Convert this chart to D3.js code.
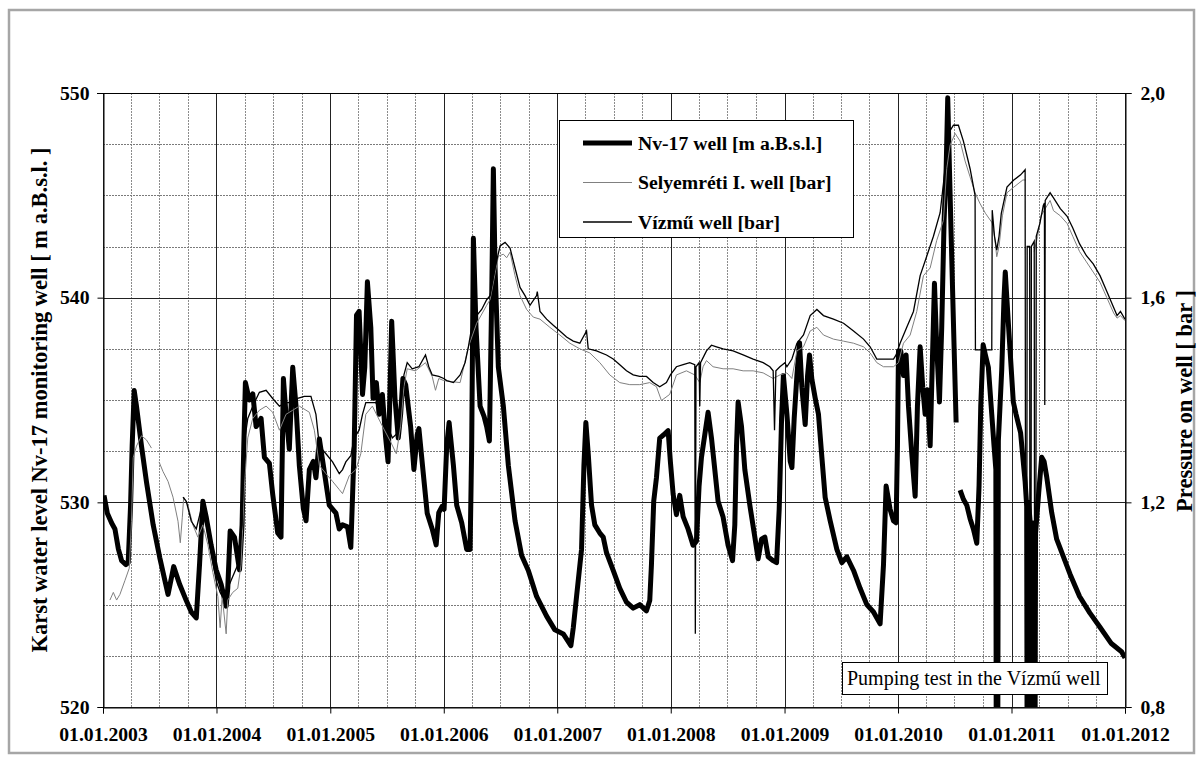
<!DOCTYPE html>
<html>
<head>
<meta charset="utf-8">
<script src="https://cdn.jsdelivr.net/npm/d3@7"></script>
<style>
  body { margin: 0; background: #fff; }
  text { font-family: "Liberation Serif", "Times New Roman", serif; }
</style>
</head>
<body>
<div id="chart"></div>
<script>
// time is in decimal years, Nv-17 in m a.B.s.l., the wells in bar
// null = no record
const nv17 = [
  [2003.009,530.34],[2003.038,529.47],[2003.076,528.99],[2003.105,528.7],[2003.135,527.73],
  [2003.164,527.15],[2003.202,526.96],[2003.222,527.05],[2003.243,529.86],[2003.257,532.76],
  [2003.275,535.46],[2003.295,534.7],[2003.339,532.76],[2003.383,531.0],[2003.442,528.9],
  [2003.5,527.3],[2003.573,525.5],[2003.623,526.86],[2003.675,526.0],[2003.734,525.2],
  [2003.778,524.64],[2003.822,524.35],[2003.851,527.0],[2003.88,530.05],[2003.909,529.3],
  [2003.953,527.9],[2003.997,526.7],[2004.041,526.0],[2004.085,524.93],[2004.099,525.8],
  [2004.12,528.6],[2004.158,528.3],[2004.202,526.7],[2004.225,528.9],[2004.24,532.76],
  [2004.254,535.85],[2004.289,535.0],[2004.319,535.3],[2004.348,533.7],[2004.392,534.1],
  [2004.421,532.2],[2004.465,531.9],[2004.494,530.4],[2004.538,528.5],[2004.567,528.3],
  [2004.588,536.05],[2004.611,534.3],[2004.64,532.6],[2004.67,536.6],[2004.699,534.7],
  [2004.728,531.8],[2004.763,529.7],[2004.787,529.1],[2004.816,531.6],[2004.851,532.0],
  [2004.874,531.2],[2004.904,533.1],[2004.939,531.8],[2004.991,529.86],[2005.05,529.47],
  [2005.079,528.7],[2005.108,528.9],[2005.152,528.8],[2005.181,527.8],[2005.211,532.76],
  [2005.231,539.14],[2005.254,539.33],[2005.284,535.27],[2005.304,536.6],[2005.327,540.78],
  [2005.357,538.55],[2005.377,535.08],[2005.406,535.85],[2005.43,534.3],[2005.459,535.27],
  [2005.488,533.14],[2005.509,531.98],[2005.523,534.69],[2005.541,538.85],[2005.57,535.08],
  [2005.599,533.14],[2005.62,534.3],[2005.64,536.05],[2005.664,535.75],[2005.708,533.7],
  [2005.737,531.6],[2005.766,533.3],[2005.781,533.6],[2005.816,531.6],[2005.854,529.47],
  [2005.898,528.7],[2005.933,527.92],[2005.956,529.5],[2005.985,529.8],[2006.003,529.66],
  [2006.026,532.76],[2006.047,533.9],[2006.085,531.8],[2006.114,529.86],[2006.158,529.0],
  [2006.202,527.7],[2006.232,527.7],[2006.246,532.76],[2006.261,542.9],[2006.284,538.55],
  [2006.32,534.7],[2006.355,534.2],[2006.378,533.7],[2006.402,533.0],[2006.422,539.9],
  [2006.437,546.3],[2006.452,541.45],[2006.481,536.6],[2006.525,534.7],[2006.569,531.8],
  [2006.628,529.1],[2006.686,527.4],[2006.745,526.67],[2006.818,525.4],[2006.906,524.44],
  [2006.979,523.77],[2007.053,523.57],[2007.12,523.0],[2007.141,523.86],[2007.17,525.4],
  [2007.214,527.7],[2007.235,531.8],[2007.252,533.9],[2007.273,532.37],[2007.302,529.86],
  [2007.331,528.9],[2007.375,528.5],[2007.405,528.3],[2007.434,527.54],[2007.493,526.67],
  [2007.551,525.8],[2007.61,525.12],[2007.669,524.83],[2007.727,525.0],[2007.786,524.7],
  [2007.815,525.2],[2007.83,526.96],[2007.85,530.05],[2007.874,531.2],[2007.903,533.14],
  [2007.938,533.3],[2007.977,533.5],[2007.997,531.98],[2008.021,530.4],[2008.05,529.4],
  [2008.079,530.34],[2008.109,529.3],[2008.152,528.7],[2008.196,527.9],[2008.226,528.1],
  [2008.249,530.8],[2008.27,532.2],[2008.299,533.3],[2008.328,534.4],[2008.358,533.14],
  [2008.387,531.6],[2008.416,530.05],[2008.46,529.28],[2008.504,527.9],[2008.543,527.15],
  [2008.563,528.9],[2008.578,532.76],[2008.592,534.9],[2008.622,533.7],[2008.651,531.6],
  [2008.695,529.86],[2008.739,528.3],[2008.768,527.24],[2008.798,528.2],[2008.827,528.3],
  [2008.856,527.34],[2008.9,527.15],[2008.93,527.05],[2008.953,529.66],[2008.974,534.1],
  [2008.99,536.2],[2009.021,534.3],[2009.05,532.0],[2009.065,531.7],[2009.085,534.1],
  [2009.109,536.2],[2009.132,537.8],[2009.153,535.6],[2009.182,533.8],[2009.203,536.2],
  [2009.22,537.2],[2009.241,536.0],[2009.27,535.1],[2009.299,534.3],[2009.329,532.2],
  [2009.358,530.24],[2009.402,529.1],[2009.461,527.7],[2009.505,527.05],[2009.549,527.34],
  [2009.608,526.67],[2009.666,525.8],[2009.725,525.0],[2009.784,524.64],[2009.842,524.06],
  [2009.872,526.96],[2009.895,530.8],[2009.93,529.66],[2009.96,529.1],[2009.983,529.0],
  [2009.995,532.76],[2010.004,537.4],[2010.024,537.4],[2010.048,536.2],[2010.071,537.2],
  [2010.092,534.7],[2010.121,532.4],[2010.151,530.3],[2010.171,534.7],[2010.195,537.6],
  [2010.218,535.6],[2010.239,534.3],[2010.259,535.5],[2010.283,532.76],[2010.306,537.6],
  [2010.321,540.7],[2010.341,537.6],[2010.365,534.9],[2010.385,538.55],[2010.406,543.78],
  [2010.424,546.3],[2010.438,549.77],[2010.453,546.3],[2010.473,542.0],[2010.494,537.6],
  [2010.512,533.9],[2010.53,null],
  [2010.547,530.6],[2010.576,530.15],[2010.606,529.86],[2010.635,529.2],[2010.664,528.7],
  [2010.694,528.0],[2010.714,530.8],[2010.729,534.7],[2010.75,537.7],[2010.77,537.2],
  [2010.796,536.6],[2010.826,534.3],[2010.846,532.76],[2010.862,531.6],[2010.866,515],
  [2010.878,515],[2010.884,533.0],[2010.914,536.5],[2010.934,540.0],[2010.945,541.25],
  [2010.975,538.5],[2011.016,534.9],[2011.04,534.3],[2011.08,533.4],[2011.12,531.0],
  [2011.134,529.8],[2011.138,515],[2011.145,515],[2011.15,530.0],[2011.165,529.0],
  [2011.17,515],[2011.178,515],[2011.185,529.0],[2011.195,528.6],[2011.2,515],
  [2011.206,515],[2011.212,528.5],[2011.24,530.5],[2011.266,532.2],[2011.287,532.0],
  [2011.31,531.25],[2011.354,529.5],[2011.398,528.2],[2011.457,527.35],[2011.515,526.5],
  [2011.6,525.4],[2011.69,524.6],[2011.78,523.9],[2011.88,523.1],[2011.97,522.7],
  [2012.0,522.4]
];

const selyemreti = [
  [2003.061,1.009],[2003.091,1.024],[2003.12,1.009],[2003.149,1.02],[2003.193,1.047],
  [2003.231,1.071],[2003.251,1.163],[2003.266,1.287],[2003.295,1.31],[2003.339,1.33],
  [2003.383,1.322],[2003.427,1.306],[2003.46,null],
  [2003.494,1.279],[2003.529,1.26],[2003.573,1.241],[2003.617,1.21],[2003.661,1.163],
  [2003.681,1.121],[2003.699,1.171],[2003.711,1.21],[2003.749,1.194],[2003.792,1.156],
  [2003.836,1.132],[2003.88,1.156],[2003.924,1.117],[2003.968,1.063],[2004.012,1.016],
  [2004.032,0.955],[2004.05,1.016],[2004.085,0.943],[2004.099,1.009],[2004.143,1.024],
  [2004.187,1.032],[2004.216,1.078],[2004.246,1.233],[2004.275,1.326],[2004.319,1.364],
  [2004.377,1.38],[2004.436,1.388],[2004.494,1.376],[2004.553,1.341],[2004.611,1.372],
  [2004.67,1.38],[2004.728,1.388],[2004.816,1.376],[2004.86,1.341],[2004.904,1.272],
  [2004.962,1.256],[2005.02,1.241],[2005.079,1.225],[2005.108,1.217],[2005.167,1.252],
  [2005.225,1.264],[2005.269,1.295],[2005.313,1.372],[2005.371,1.388],[2005.459,1.349],
  [2005.532,1.318],[2005.582,1.295],[2005.62,1.349],[2005.649,1.426],[2005.678,1.461],
  [2005.751,1.457],[2005.839,1.473],[2005.898,1.446],[2005.927,1.419],[2005.956,1.442],
  [2006.0,1.438],[2006.07,1.436],[2006.144,1.434],[2006.217,1.504],[2006.29,1.55],
  [2006.378,1.585],[2006.408,1.596],[2006.481,1.681],[2006.525,1.685],[2006.554,1.678],
  [2006.584,1.689],[2006.628,1.643],[2006.672,1.604],[2006.73,1.577],[2006.789,1.562],
  [2006.848,1.558],[2006.935,1.542],[2007.023,1.527],[2007.111,1.511],[2007.199,1.5],
  [2007.287,1.492],[2007.375,1.473],[2007.463,1.449],[2007.551,1.434],[2007.639,1.43],
  [2007.727,1.43],[2007.815,1.434],[2007.874,1.426],[2007.918,1.399],[2007.991,1.411],
  [2008.05,1.449],[2008.138,1.457],[2008.211,1.449],[2008.255,1.434],[2008.284,1.465],
  [2008.314,1.477],[2008.372,1.465],[2008.46,1.461],[2008.548,1.461],[2008.636,1.457],
  [2008.724,1.457],[2008.812,1.453],[2008.9,1.442],[2008.959,1.449],[2009.021,1.453],
  [2009.065,1.442],[2009.109,1.496],[2009.167,1.504],[2009.226,1.535],[2009.285,1.542],
  [2009.343,1.527],[2009.431,1.519],[2009.52,1.515],[2009.608,1.511],[2009.696,1.504],
  [2009.754,1.492],[2009.813,1.473],[2009.872,1.465],[2009.96,1.465],[2010.004,1.473],
  [2010.048,1.511],[2010.107,1.527],[2010.165,1.573],[2010.224,1.643],[2010.283,1.658],
  [2010.341,1.712],[2010.4,1.751],[2010.429,1.852],[2010.459,1.898],[2010.503,1.921],
  [2010.547,1.906],[2010.591,1.867],[2010.635,1.836],[2010.679,1.805],[2010.72,1.785],
  [2010.77,1.765],[2010.83,1.746],[2010.85,1.72],[2010.87,1.68],[2010.89,1.7],
  [2010.92,1.76],[2010.96,1.805],[2011.02,1.816],[2011.1,1.83],[2011.126,1.83],
  [2011.13,null],
  [2011.2,1.69],[2011.23,1.72],[2011.26,1.76],[2011.3,1.775],[2011.34,1.79],
  [2011.37,1.77],[2011.43,1.76],[2011.49,1.745],[2011.54,1.72],[2011.6,1.69],
  [2011.66,1.67],[2011.72,1.65],[2011.78,1.63],[2011.84,1.6],[2011.9,1.57],
  [2011.93,1.56],[2011.96,1.565],[2012.0,1.555]
];

const vizmu = [
  [2003.705,1.21],[2003.734,1.202],[2003.778,1.163],[2003.822,1.148],[2003.865,1.187],
  [2003.909,1.156],[2003.953,1.101],[2003.997,1.047],[2004.032,1.024],[2004.07,1.009],
  [2004.099,1.032],[2004.143,1.055],[2004.187,1.078],[2004.225,1.156],[2004.24,1.31],
  [2004.275,1.364],[2004.319,1.388],[2004.377,1.415],[2004.436,1.419],[2004.494,1.403],
  [2004.553,1.388],[2004.611,1.395],[2004.655,1.395],[2004.713,1.403],[2004.772,1.407],
  [2004.83,1.407],[2004.874,1.372],[2004.904,1.31],[2004.962,1.295],[2005.02,1.279],
  [2005.079,1.256],[2005.108,1.264],[2005.137,1.279],[2005.181,1.291],[2005.211,1.326],
  [2005.254,1.341],[2005.284,1.372],[2005.313,1.395],[2005.342,1.395],[2005.401,1.395],
  [2005.459,1.372],[2005.518,1.341],[2005.547,1.326],[2005.582,1.333],[2005.62,1.388],
  [2005.649,1.449],[2005.678,1.473],[2005.722,1.461],[2005.781,1.465],[2005.839,1.488],
  [2005.868,1.465],[2005.898,1.449],[2005.956,1.446],[2006.0,1.442],[2006.026,1.438],
  [2006.085,1.434],[2006.144,1.449],[2006.188,1.473],[2006.217,1.504],[2006.246,1.542],
  [2006.29,1.565],[2006.334,1.577],[2006.378,1.596],[2006.408,1.604],[2006.452,1.658],
  [2006.496,1.701],[2006.54,1.708],[2006.584,1.697],[2006.628,1.658],[2006.672,1.62],
  [2006.716,1.604],[2006.76,1.585],[2006.818,1.604],[2006.824,1.612],[2006.848,1.573],
  [2006.906,1.558],[2006.965,1.546],[2007.023,1.535],[2007.082,1.523],[2007.141,1.515],
  [2007.199,1.511],[2007.258,1.535],[2007.273,1.5],[2007.346,1.496],[2007.434,1.488],
  [2007.493,1.48],[2007.551,1.469],[2007.61,1.457],[2007.669,1.449],[2007.727,1.446],
  [2007.786,1.446],[2007.845,1.434],[2007.903,1.426],[2007.962,1.434],[2007.997,1.449],
  [2008.05,1.465],[2008.109,1.469],[2008.167,1.473],[2008.211,1.469],[2008.216,0.943],
  [2008.222,1.465],[2008.249,1.473],[2008.255,1.388],[2008.262,1.473],[2008.314,1.496],
  [2008.358,1.507],[2008.402,1.504],[2008.46,1.5],[2008.548,1.496],[2008.636,1.488],
  [2008.724,1.48],[2008.812,1.473],[2008.871,1.465],[2008.9,1.457],[2008.912,1.341],
  [2008.924,1.457],[2008.959,1.465],[2009.003,1.473],[2009.021,1.465],[2009.065,1.48],
  [2009.109,1.511],[2009.167,1.527],[2009.226,1.565],[2009.285,1.577],[2009.343,1.565],
  [2009.431,1.558],[2009.52,1.55],[2009.608,1.535],[2009.696,1.519],[2009.754,1.504],
  [2009.813,1.48],[2009.872,1.48],[2009.96,1.48],[2009.983,1.488],[2010.018,1.511],
  [2010.077,1.542],[2010.136,1.573],[2010.195,1.643],[2010.253,1.681],[2010.312,1.72],
  [2010.371,1.766],[2010.415,1.852],[2010.444,1.921],[2010.488,1.937],[2010.532,1.937],
  [2010.576,1.906],[2010.635,1.852],[2010.679,1.8],[2010.682,1.498],[2010.826,1.498],
  [2010.83,1.771],[2010.85,1.72],[2010.87,1.693],[2010.89,1.72],[2010.91,1.765],
  [2010.96,1.816],[2011.02,1.83],[2011.08,1.84],[2011.12,1.85],[2011.126,0.6],
  [2011.132,0.6],[2011.138,1.7],[2011.16,1.7],[2011.163,0.6],[2011.17,0.6],
  [2011.175,1.7],[2011.2,1.71],[2011.205,0.6],[2011.212,0.6],[2011.218,1.72],
  [2011.25,1.745],[2011.28,1.78],[2011.29,1.785],[2011.293,1.39],[2011.297,1.79],
  [2011.34,1.805],[2011.37,1.795],[2011.43,1.774],[2011.49,1.759],[2011.54,1.736],
  [2011.6,1.705],[2011.66,1.682],[2011.72,1.666],[2011.78,1.643],[2011.84,1.612],
  [2011.9,1.581],[2011.93,1.565],[2011.96,1.573],[2012.0,1.558]
];

const levelTicks = [520, 530, 540, 550];
const pressureTicks = [0.8, 1.2, 1.6, 2.0];
const legendLabels = ["Nv-17 well [m a.B.s.l.]", "Selyemréti I. well [bar]", "Vízmű well [bar]"];
const leftTitle = "Karst water level Nv-17 monitoring well [ m a.B.s.l. ]";
const rightTitle = "Pressure on well [ bar ]";
const noteText = "Pumping test in the Vízmű well";

// decimal year -> Date
function toDate(t) {
  const y = Math.floor(t);
  const a = Date.UTC(y, 0, 1), b = Date.UTC(y + 1, 0, 1);
  return new Date(a + (t - y) * (b - a));
}

const W = 1203, H = 760;
const pL = 103, pT = 93, pR = 1125, pB = 707;

const svg = d3.select("#chart").append("svg")
  .attr("width", W).attr("height", H);

// outer frame
svg.append("rect")
  .attr("x", 9).attr("y", 10).attr("width", 1185).attr("height", 743)
  .attr("fill", "#fff").attr("stroke", "#a6a6a6").attr("stroke-width", 2.5);

const x = d3.scaleUtc()
  .domain([toDate(2003), toDate(2012)])
  .range([pL, pR]);
const yL = d3.scaleLinear().domain([520, 550]).range([pB, pT]);
const yR = d3.scaleLinear().domain([0.8, 2.0]).range([pB, pT]);

// grid
const grid = svg.append("g");
const quarters = d3.utcMonth.every(3).range(toDate(2003), toDate(2012));
grid.selectAll("line.vq")
  .data(quarters.filter(d => d.getUTCMonth() !== 0))
  .join("line")
  .attr("x1", d => Math.round(x(d)) + 0.5).attr("x2", d => Math.round(x(d)) + 0.5)
  .attr("y1", pT).attr("y2", pB)
  .attr("stroke", "#8c8c8c").attr("stroke-dasharray", "2,1");
grid.selectAll("line.hq")
  .data(d3.range(522.5, 550, 2.5).filter(v => v % 10 !== 0))
  .join("line")
  .attr("x1", pL).attr("x2", pR)
  .attr("y1", d => Math.round(yL(d)) + 0.5).attr("y2", d => Math.round(yL(d)) + 0.5)
  .attr("stroke", "#7a7a7a").attr("stroke-dasharray", "2,1");
grid.selectAll("line.vy")
  .data(x.ticks(d3.utcYear.every(1)))
  .join("line")
  .attr("x1", d => Math.round(x(d)) + 0.5).attr("x2", d => Math.round(x(d)) + 0.5)
  .attr("y1", pT).attr("y2", pB)
  .attr("stroke", "#222");
grid.selectAll("line.hy")
  .data(levelTicks)
  .join("line")
  .attr("x1", pL).attr("x2", pR)
  .attr("y1", d => Math.round(yL(d)) + 0.5).attr("y2", d => Math.round(yL(d)) + 0.5)
  .attr("stroke", "#222");

// series
svg.append("clipPath").attr("id", "clip")
  .append("rect").attr("x", pL).attr("y", pT).attr("width", pR - pL).attr("height", pB - pT);
const plot = svg.append("g").attr("clip-path", "url(#clip)");

const lineL = d3.line()
  .defined(d => d[1] != null)
  .x(d => x(toDate(d[0]))).y(d => yL(d[1]));
const lineR = d3.line()
  .defined(d => d[1] != null)
  .x(d => x(toDate(d[0]))).y(d => yR(d[1]));

plot.append("path").datum(nv17).attr("d", lineL)
  .attr("fill", "none").attr("stroke", "#000").attr("stroke-width", 5)
  .attr("stroke-linejoin", "round");
plot.append("path").datum(selyemreti).attr("d", lineR)
  .attr("fill", "none").attr("stroke", "#808080").attr("stroke-width", 1);
plot.append("path").datum(vizmu).attr("d", lineR)
  .attr("fill", "none").attr("stroke", "#000").attr("stroke-width", 1.3);

// axes
const fmtDate = d3.utcFormat("%d.%m.%Y");
const axL = svg.append("g").attr("transform", `translate(${pL + 0.5},0)`)
  .call(d3.axisLeft(yL).tickValues(levelTicks).tickSize(6).tickPadding(8));
const axR = svg.append("g").attr("transform", `translate(${pR + 0.5},0)`)
  .call(d3.axisRight(yR).tickValues(pressureTicks).tickSize(6).tickPadding(9)
    .tickFormat(d => d3.format(".1f")(d).replace(".", ",")));
const axB = svg.append("g").attr("transform", `translate(0,${pB + 0.5})`)
  .call(d3.axisBottom(x).ticks(d3.utcYear.every(1)).tickFormat(fmtDate).tickSize(6).tickPadding(14));
svg.append("line").attr("x1", pL - 6).attr("x2", pR + 6)
  .attr("y1", pT + 0.5).attr("y2", pT + 0.5).attr("stroke", "#000");

[axL, axR, axB].forEach(a => {
  a.select(".domain").attr("stroke", "#000");
  a.selectAll(".tick line").attr("stroke", "#000");
  a.selectAll("text")
    .attr("font-family", '"Liberation Serif", serif')
    .attr("font-size", 19.7).attr("font-weight", "bold").attr("fill", "#000");
});

// axis titles
svg.append("text")
  .attr("transform", "translate(47,400) rotate(-90)")
  .attr("text-anchor", "middle")
  .attr("font-size", 22.5).attr("font-weight", "bold")
  .text(leftTitle);
svg.append("text")
  .attr("transform", "translate(1192,401) rotate(-90)")
  .attr("text-anchor", "middle")
  .attr("font-size", 22.5).attr("font-weight", "bold")
  .text(rightTitle);

// legend
const lg = svg.append("g").attr("transform", "translate(559,120)");
lg.append("rect").attr("x", 0.5).attr("y", 0.5).attr("width", 294).attr("height", 117)
  .attr("fill", "#fff").attr("stroke", "#000");
const lgStyle = [
  { w: 5, c: "#000" },
  { w: 1, c: "#808080" },
  { w: 1.3, c: "#000" }
];
legendLabels.forEach((lab, i) => {
  const yy = 23 + i * 39.5;
  lg.append("line").attr("x1", 24).attr("x2", 73).attr("y1", yy).attr("y2", yy)
    .attr("stroke", lgStyle[i].c).attr("stroke-width", lgStyle[i].w);
  lg.append("text").attr("x", 79).attr("y", yy).attr("dy", "0.35em")
    .attr("font-size", 19.7).attr("font-weight", "bold").text(lab);
});

// note box
const nb = svg.append("g").attr("transform", "translate(842,662)");
nb.append("rect").attr("x", 0.5).attr("y", 0.5).attr("width", 265).attr("height", 32)
  .attr("fill", "#fff").attr("stroke", "#000");
nb.append("text").attr("x", 5).attr("y", 16).attr("dy", "0.35em")
  .attr("font-size", 20).text(noteText);
</script>
</body>
</html>
